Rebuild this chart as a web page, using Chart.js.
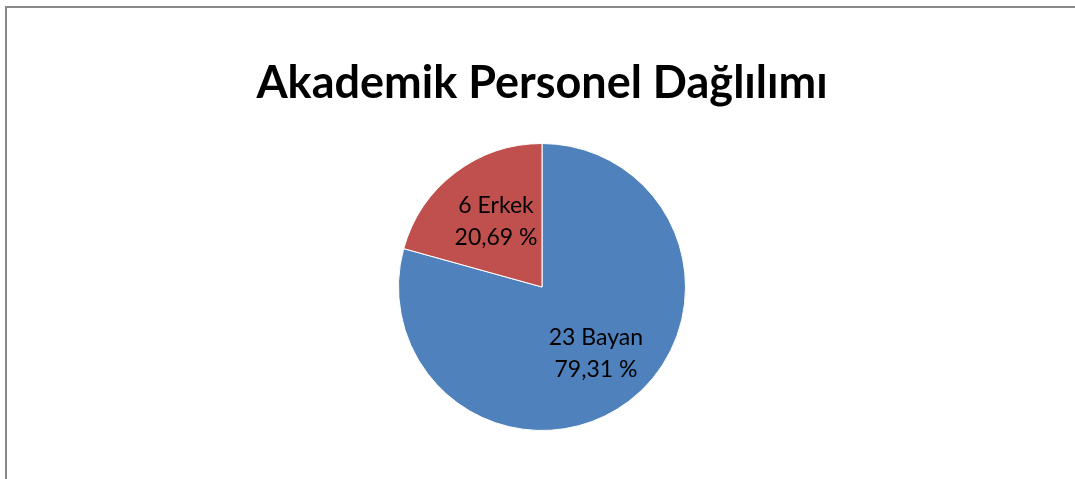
<!DOCTYPE html>
<html>
<head>
<meta charset="utf-8">
<script src="https://cdn.jsdelivr.net/npm/chart.js@4/dist/chart.umd.min.js"></script>
<style>
  html, body { margin: 0; padding: 0; background: #fff; overflow: hidden; }
  #frame { position: absolute; left: 5px; top: 6px; width: 1200px; height: 600px; border: 2px solid #898989; }
  #wrap { position: absolute; left: 0; top: 0; width: 1075px; height: 479px; }
</style>
</head>
<body>
<div id="frame"></div>
<div id="wrap"><canvas id="c" width="1075" height="479"></canvas></div>
<script>
const titleText = "Akademik Personel Dağlılımı";
const categories = ["Bayan", "Erkek"];
const counts = [23, 6];
const percents = ["79,31 %", "20,69 %"];
const colors = ["#4F81BD", "#C0504D"];

const titlePlugin = {
  id: 'xlTitle',
  afterDraw(chart) {
    const ctx = chart.ctx;
    ctx.save();
    ctx.font = "bold 45px Lato, 'Open Sans', sans-serif";
    ctx.fillStyle = "#000";
    ctx.textAlign = "center";
    ctx.textBaseline = "alphabetic";
    ctx.fillText(titleText, 542, 98);
    ctx.restore();
  }
};

const labelPlugin = {
  id: 'xlLabels',
  afterDatasetsDraw(chart) {
    const ctx = chart.ctx;
    const meta = chart.getDatasetMeta(0);
    ctx.save();
    ctx.font = "23px Lato, 'Open Sans', sans-serif";
    ctx.fillStyle = "#000";
    ctx.textAlign = "center";
    ctx.textBaseline = "alphabetic";
    meta.data.forEach((arc, i) => {
      const p = arc.getProps(['x','y','startAngle','endAngle','outerRadius'], true);
      const mid = (p.startAngle + p.endAngle) / 2;
      const r = p.outerRadius * 0.575;
      const x = p.x + Math.cos(mid) * r;
      const y = p.y + Math.sin(mid) * r;
      ctx.fillText(counts[i] + " " + categories[i], x + 4, y - 8);
      ctx.fillText(percents[i], x + 4, y + 24);
    });
    ctx.restore();
  }
};

new Chart(document.getElementById('c'), {
  type: 'pie',
  data: {
    labels: categories,
    datasets: [{
      data: counts,
      backgroundColor: colors,
      borderColor: "#ffffff",
      borderWidth: 1
    }]
  },
  options: {
    responsive: false,
    animation: false,
    layout: { padding: { top: 143, bottom: 48, left: 9, right: 0 } },
    plugins: {
      legend: { display: false },
      title: { display: false },
      tooltip: { enabled: false }
    }
  },
  plugins: [titlePlugin, labelPlugin]
});
</script>
</body>
</html>
